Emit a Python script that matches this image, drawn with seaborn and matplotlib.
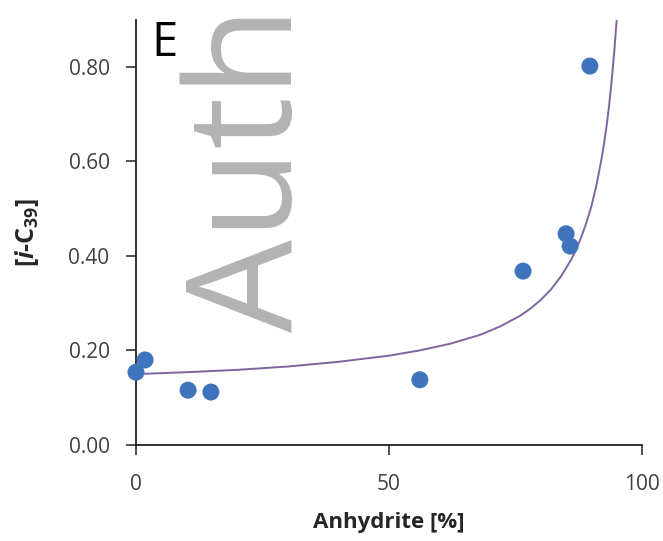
import matplotlib
matplotlib.use("Agg")
import matplotlib.pyplot as plt
import numpy as np
import pandas as pd
import seaborn as sns

# measured samples
anhydrite = [0.0, 1.8, 10.3, 14.8, 56.1, 76.5, 85.0, 85.8, 89.7]
iso_c39 = [0.154, 0.180, 0.116, 0.112, 0.138, 0.368, 0.447, 0.421, 0.802]

# trend line
trend_x = [0, 10, 20, 30, 40, 50, 56, 62, 68, 72, 76, 78, 80, 82, 84, 86,
           87, 88, 89, 90, 91, 92, 92.5, 93, 93.5, 94, 94.5, 95]
trend_y = [0.150, 0.154, 0.159, 0.166, 0.176, 0.189, 0.200, 0.214, 0.233,
           0.251, 0.274, 0.289, 0.307, 0.329, 0.357, 0.392, 0.414, 0.440,
           0.470, 0.505, 0.550, 0.605, 0.638, 0.675, 0.718, 0.770, 0.830,
           0.900]

xticks = [0, 50, 100]
yticks = [0.0, 0.2, 0.4, 0.6, 0.8]

sns.set_style("ticks")
plt.rcParams['font.family'] = ['Open Sans', 'DejaVu Sans']
plt.rcParams['mathtext.fontset'] = 'custom'
plt.rcParams['mathtext.rm'] = 'Open Sans:bold'
plt.rcParams['mathtext.it'] = 'Open Sans:italic:bold'

df = pd.DataFrame({'x': anhydrite, 'y': iso_c39})
tf = pd.DataFrame({'x': trend_x, 'y': trend_y})

fig = plt.figure(figsize=(6.63, 5.41), dpi=100)
ax = fig.add_axes([0.2051, 0.1775, 0.7632, 0.786])

sns.lineplot(ax=ax, data=tf, x='x', y='y', color='#8064a2', lw=1.4,
             sort=False, zorder=2)
sns.scatterplot(ax=ax, data=df, x='x', y='y', color='#3f74bd', s=150,
                edgecolor='none', zorder=3, clip_on=False)

ax.set_xlim(0, 100)
ax.set_ylim(0, 0.9)
ax.set_xticks(xticks)
ax.set_yticks(yticks)
ax.set_yticklabels([f"{v:.2f}" for v in yticks])
ax.tick_params(axis='both', labelsize=15, colors='#333333', length=7,
               width=1.2, direction='out')
ax.tick_params(axis='x', pad=14, labelcolor='#404040')
ax.tick_params(axis='y', pad=12, labelcolor='#404040')

for s in ['top', 'right']:
    ax.spines[s].set_visible(False)
for s in ['left', 'bottom']:
    ax.spines[s].set_linewidth(1.3)
    ax.spines[s].set_color('#222222')

ax.set_xlabel('Anhydrite [%]', fontsize=16, fontweight='bold', labelpad=12)
ax.set_ylabel(r'[$\mathit{i}$-C$_{\mathrm{39}}$]', fontsize=18,
              fontweight='bold', labelpad=20)

ax.text(0.03, 1.0, 'E', transform=ax.transAxes, fontsize=34,
        ha='left', va='top', color='black')

# watermark
fig.text(0.382, 0.688, 'Auth', rotation=90, fontsize=106, color='#b3b3b3',
         ha='center', va='center', zorder=10)

fig.savefig('out.png', dpi=100)
